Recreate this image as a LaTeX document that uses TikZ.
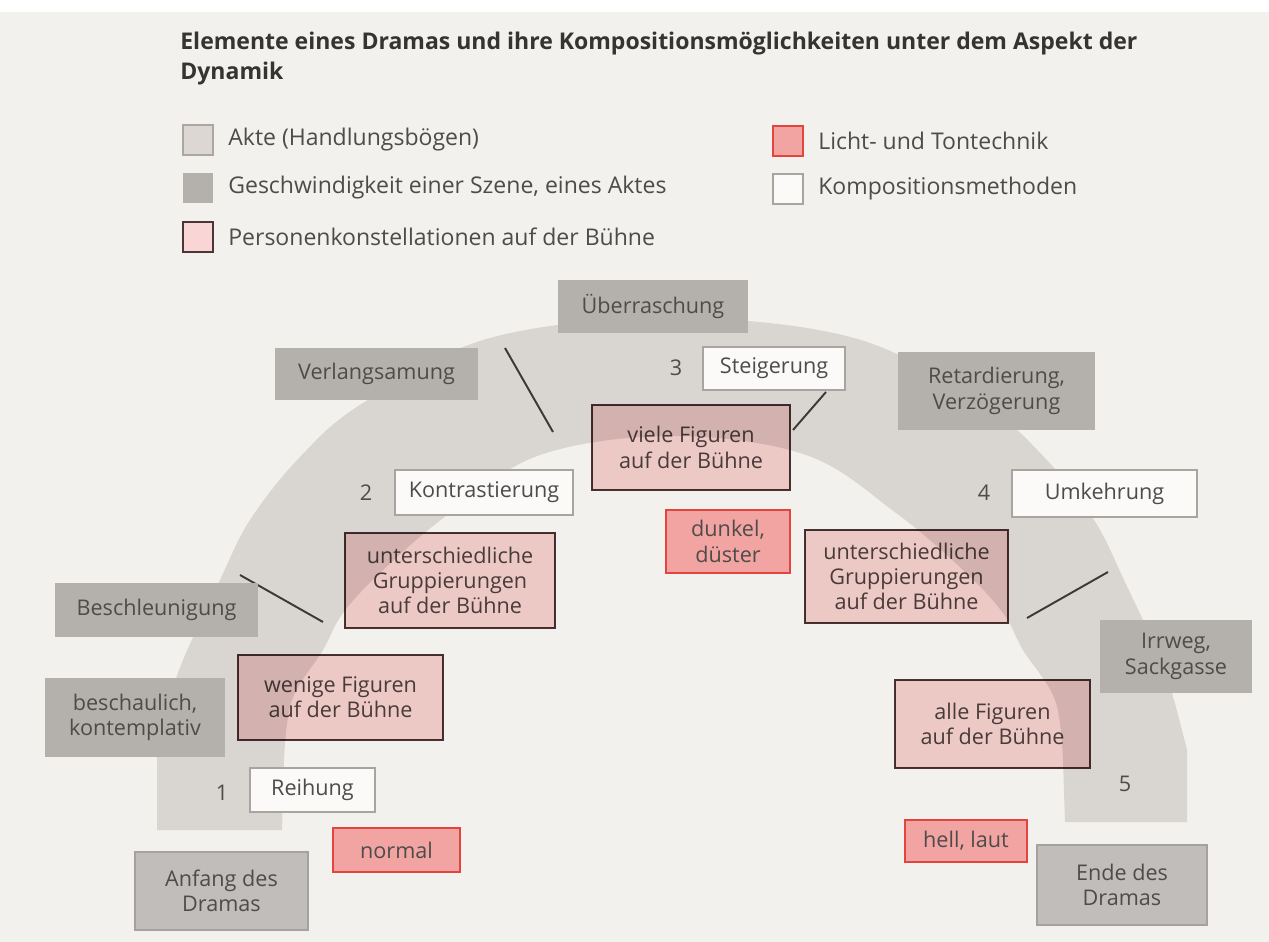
\documentclass[tikz,border=0pt]{standalone}
\usepackage{fontspec}
\setmainfont{Open Sans}
\definecolor{bg}{HTML}{F3F1EE}
\definecolor{band}{HTML}{D9D5D1}
\definecolor{txt}{HTML}{4E4C4A}
\definecolor{ttl}{HTML}{363432}
\definecolor{geschw}{HTML}{B4B0AC}
\definecolor{aktfill}{HTML}{DDD7D3}
\definecolor{aktdraw}{HTML}{ACA6A2}
\definecolor{endfill}{HTML}{C0BDBA}
\definecolor{enddraw}{HTML}{A4A19E}
\definecolor{persfill}{HTML}{F9D5D5}
\definecolor{persdraw}{HTML}{4A3636}
\definecolor{lichtfill}{HTML}{F2A4A2}
\definecolor{lichtdraw}{HTML}{E2443E}
\definecolor{kompfill}{HTML}{FBFAF8}
\definecolor{kompdraw}{HTML}{A8A4A0}
\definecolor{divline}{HTML}{3A3A3A}
\newcommand\boxfont{\fontsize{12.3}{14.4}\selectfont}
\newcommand\legfont{\fontsize{13.1}{15}\selectfont}
\newcommand\ttlfont{\fontsize{13.1}{15}\selectfont\bfseries}
\tikzset{
  base/.style={rectangle, inner sep=0pt, align=center, font=\boxfont, text=txt},
  gesch/.style={base, fill=geschw},
  akt/.style={base, fill=aktfill, draw=aktdraw, line width=0.6pt},
  endbox/.style={base, fill=endfill, draw=enddraw, line width=0.6pt},
  pers/.style={base, fill=persfill, draw=persdraw, line width=0.8pt},
  licht/.style={base, fill=lichtfill, draw=lichtdraw, line width=0.8pt},
  komp/.style={base, fill=kompfill, draw=kompdraw, line width=0.7pt},
  num/.style={font=\boxfont, text=txt, inner sep=0pt},
  legtext/.style={anchor=west, font=\legfont, text=txt, inner sep=0pt},
  divider/.style={draw=divline, line width=1.1pt},
}
\begin{document}
\begin{tikzpicture}[x=0.02cm, y=-0.02cm]
\useasboundingbox (0,0) rectangle (1269,942);
\fill[bg] (0,0) rectangle (1269,942);
\fill[white] (0,0) rectangle (1269,12);

% title
\node[anchor=base west, font=\ttlfont, text=ttl, inner sep=0pt] (t1) at (180,50)
  {Elemente eines Dramas und ihre Kompositionsmöglichkeiten unter dem Aspekt der};
\node[anchor=base west, font=\ttlfont, text=ttl, inner sep=0pt] (t2) at (180,80) {Dynamik};

% legend
\node[akt, minimum size=0.6cm] (lA) at (198,140) {};
\node[legtext] (lAt) at (228,140) {Akte (Handlungsbögen)};
\node[gesch, minimum size=0.6cm] (lG) at (198,188) {};
\node[legtext] (lGt) at (228,188) {Geschwindigkeit einer Szene, eines Aktes};
\node[pers, minimum size=0.6cm] (lP) at (198,237) {};
\node[legtext] (lPt) at (228,237) {Personenkonstellationen auf der Bühne};
\node[licht, minimum size=0.6cm] (lL) at (788,141) {};
\node[legtext] (lLt) at (818,141) {Licht- und Tontechnik};
\node[komp, minimum size=0.6cm] (lK) at (788,189) {};
\node[legtext] (lKt) at (818,189) {Kompositionsmethoden};

% arc band
\fill[band] (157,830) -- plot[smooth, tension=0.6] coordinates {(157,750) (170,700) (183,660) (220,580) (250,520) (300,457) (363,403) (490,338) (672,318) (854,338) (981,403) (1044,457) (1094,520) (1124,580) (1161,660) (1174,700) (1187,750)}
  -- (1187,822) -- (1065,822)
  -- plot[smooth, tension=0.6] coordinates {(1063,760) (1055,700) (1023,650) (1003,613) (963,570) (896,513) (806,455) (673,436) (540,455) (450,513) (383,570) (343,613) (323,650) (292,700) (284,760)}
  -- (282,830) -- cycle;

% act dividers
\coordinate (d1a) at (505,348); \coordinate (d1b) at (553,432);
\coordinate (d2a) at (826,392); \coordinate (d2b) at (793,430);
\coordinate (d3a) at (240,575); \coordinate (d3b) at (323,622);
\coordinate (d4a) at (1108,572); \coordinate (d4b) at (1027,618);
\draw[divider] (d1a) -- (d1b);
\draw[divider] (d2a) -- (d2b);
\draw[divider] (d3a) -- (d3b);
\draw[divider] (d4a) -- (d4b);

% speed boxes
\node[gesch, minimum width=3.8cm, minimum height=1.06cm] (ueb) at (653,306.5) {Überraschung};
\node[gesch, minimum width=4.06cm, minimum height=1.04cm] (verl) at (376.5,374) {Verlangsamung};
\node[gesch, minimum width=3.94cm, minimum height=1.56cm] (ret) at (996.5,391) {Retardierung,\\Verzögerung};
\node[gesch, minimum width=4.06cm, minimum height=1.08cm] (besch) at (156.5,610) {Beschleunigung};
\node[gesch, minimum width=3.04cm, minimum height=1.46cm] (irr) at (1176,656.5) {Irrweg,\\Sackgasse};
\node[gesch, minimum width=3.6cm, minimum height=1.58cm] (bes) at (135,717.5) {beschaulich,\\kontemplativ};

% act boundary boxes
\node[endbox, minimum width=3.46cm, minimum height=1.56cm] (anf) at (221.5,891) {Anfang des\\Dramas};
\node[endbox, minimum width=3.4cm, minimum height=1.6cm] (ende) at (1122,885) {Ende des\\Dramas};

% composition methods
\node[komp, minimum width=2.84cm, minimum height=0.86cm] (stei) at (774,368.5) {Steigerung};
\node[komp, minimum width=3.56cm, minimum height=0.9cm] (kontr) at (484,492.5) {Kontrastierung};
\node[komp, minimum width=3.7cm, minimum height=0.94cm] (umk) at (1104.5,493.5) {Umkehrung};
\node[komp, minimum width=2.5cm, minimum height=0.88cm] (rei) at (312.5,790) {Reihung};

% numbers
\node[num] (n1) at (222,793) {1};
\node[num] (n2) at (366,493) {2};
\node[num] (n3) at (676,368) {3};
\node[num] (n4) at (984,493) {4};
\node[num] (n5) at (1125,784) {5};

% person constellations
\begin{scope}[blend mode=multiply]
\node[pers, minimum width=3.96cm, minimum height=1.7cm] (viele) at (691,447.5) {viele Figuren\\auf der Bühne};
\node[pers, minimum width=4.2cm, minimum height=1.9cm] (untL) at (450,580.5) {unterschiedliche\\Gruppierungen\\auf der Bühne};
\node[pers, minimum width=4.06cm, minimum height=1.86cm] (untR) at (906.5,576.5) {unterschiedliche\\Gruppierungen\\auf der Bühne};
\node[pers, minimum width=4.1cm, minimum height=1.7cm] (wen) at (340.5,697.5) {wenige Figuren\\auf der Bühne};
\node[pers, minimum width=3.9cm, minimum height=1.76cm] (alle) at (992.5,724) {alle Figuren\\auf der Bühne};
\end{scope}

% light and sound
\node[licht, minimum width=2.48cm, minimum height=1.26cm] (dunk) at (728,541.5) {dunkel,\\düster};
\node[licht, minimum width=2.54cm, minimum height=0.88cm] (norm) at (396.5,850) {normal};
\node[licht, minimum width=2.44cm, minimum height=0.84cm] (hell) at (966,841) {hell, laut};
\end{tikzpicture}
\end{document}
